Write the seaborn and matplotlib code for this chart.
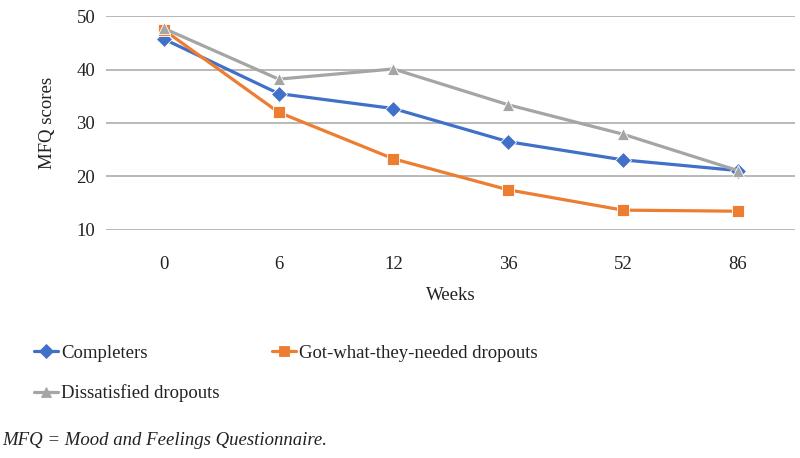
import pandas as pd
import matplotlib
matplotlib.use('Agg')
import matplotlib.pyplot as plt
import seaborn as sns
from matplotlib.lines import Line2D

# Data
weeks = ['0', '6', '12', '36', '52', '86']
completers = [45.7, 35.5, 32.7, 26.5, 23.1, 21.1]
got_what_needed = [47.4, 32.0, 23.3, 17.5, 13.7, 13.5]
dissatisfied = [47.7, 38.2, 40.1, 33.4, 27.9, 21.1]

groups = ['Completers', 'Got-what-they-needed dropouts', 'Dissatisfied dropouts']
colors = {'Completers': '#4170c8', 'Got-what-they-needed dropouts': '#ed7d31',
          'Dissatisfied dropouts': '#a5a5a5'}
markers = {'Completers': 'D', 'Got-what-they-needed dropouts': 's',
           'Dissatisfied dropouts': '^'}

df = pd.DataFrame({
    'Weeks': weeks * 3,
    'score': completers + got_what_needed + dissatisfied,
    'group': [groups[0]] * 6 + [groups[1]] * 6 + [groups[2]] * 6,
})

sns.set_theme(style='white')
plt.rcParams['font.family'] = ['Liberation Serif', 'DejaVu Serif']
fs = 13.5
txt = '#222222'

fig = plt.figure(figsize=(8, 4.58), dpi=100)
ax = fig.add_axes([0.133, 0.498, 0.861, 0.467])

sns.lineplot(data=df, x='Weeks', y='score', hue='group', style='group',
             hue_order=groups, style_order=groups, palette=colors,
             markers=markers, dashes=False, linewidth=2.3, markersize=8,
             markeredgewidth=0.6, ax=ax, legend=False, sort=False)

ax.set_xlim(-0.5, 5.5)
ax.set_ylim(10, 50)
ax.set_yticks([10, 20, 30, 40, 50])
ax.yaxis.grid(True, color='#a6a6a6', linewidth=1.1)
ax.set_axisbelow(True)
for s in ax.spines.values():
    s.set_visible(False)
ax.tick_params(axis='both', length=0, labelsize=fs, colors=txt)
ax.tick_params(axis='x', pad=19)
ax.tick_params(axis='y', pad=8)
ax.set_xlabel('Weeks', fontsize=fs, color=txt, labelpad=10)
ax.set_ylabel('MFQ scores', fontsize=fs, color=txt, labelpad=15)

# legend in row order like the original
handles = {g: Line2D([0], [0], color=colors[g], marker=markers[g], linewidth=2.3,
                     markersize=7, markeredgewidth=0.6) for g in groups}
order = [groups[0], groups[2], groups[1]]
fig.legend([handles[g] for g in order], order, ncol=2, frameon=False,
           loc='upper left', bbox_to_anchor=(0.021, 0.284), fontsize=fs,
           handlelength=1.3, handletextpad=0.15, columnspacing=2.8,
           labelspacing=1.2, labelcolor=txt)

fig.text(0.003, 0.028, 'MFQ = Mood and Feelings Questionnaire.', fontsize=fs,
         style='italic', color=txt)

fig.savefig('out.png', dpi=100)
